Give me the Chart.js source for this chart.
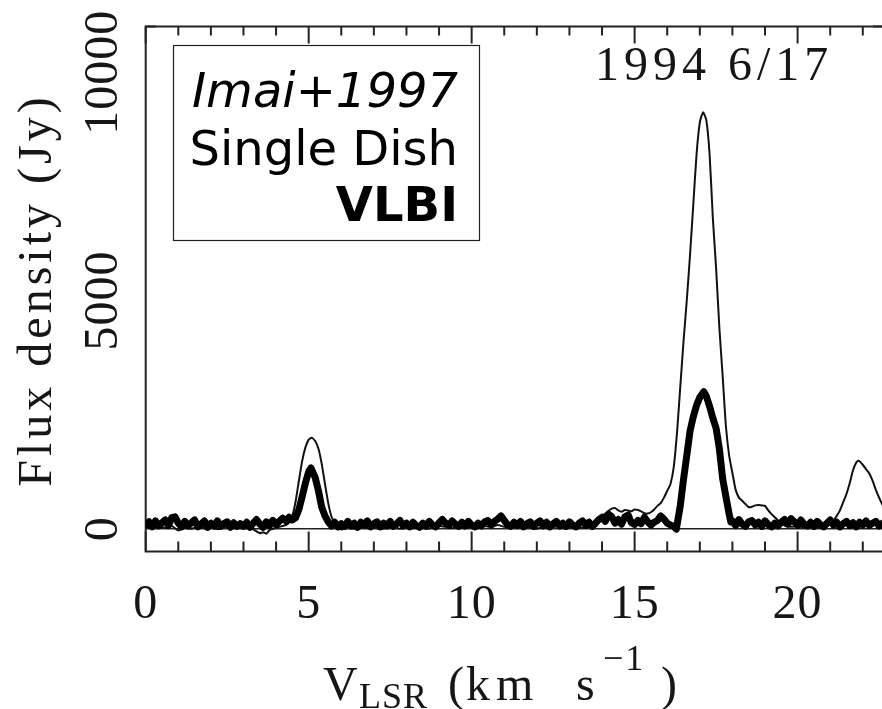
<!DOCTYPE html>
<html>
<head>
<meta charset="utf-8">
<title>H2O maser spectrum 1994 6/17</title>
<script src="https://cdn.jsdelivr.net/npm/chart.js@4/dist/chart.umd.min.js"></script>
<style>
  html, body { margin: 0; padding: 0; background: #fff; overflow: hidden; }
  #wrap { width: 882px; height: 709px; overflow: hidden; }
  canvas { display: block; }
</style>
</head>
<body>
<div id="wrap"><canvas id="spec" width="900" height="709"></canvas></div>
<script>
// Observation epoch
const epochLabel = '1994 6/17';

// Legend entries (top to bottom)
const legendLines = ['Imai+1997', 'Single Dish', 'VLBI'];

// Axis ticks
const xTickLabels = [0, 5, 10, 15, 20];
const yTickLabels = [0, 5000, 10000];

// Single-dish spectrum: LSR velocity (km/s) and flux density (Jy)
const sdVel = [
  0.0, 0.2, 0.4, 0.6, 0.8, 1.0, 1.2, 1.4, 1.6, 1.8, 2.0, 2.2, 2.4, 2.6, 2.8, 3.0, 3.2, 3.4, 3.5, 3.6,
  3.7, 3.8, 4.0, 4.2, 4.3, 4.4, 4.5, 4.6, 4.7, 4.8, 4.9, 5.0, 5.09, 5.2, 5.3, 5.4, 5.5, 5.6, 5.7, 5.8,
  5.9, 6.0, 6.2, 6.4, 6.6, 6.8, 7.0, 7.2, 7.4, 7.6, 7.8, 8.0, 8.2, 8.4, 8.6, 8.8, 9.0, 9.2, 9.4, 9.6,
  9.8, 10.0, 10.2, 10.4, 10.6, 10.8, 11.0, 11.2, 11.4, 11.6, 11.8, 12.0, 12.2, 12.4, 12.6, 12.8, 13.0, 13.2, 13.4, 13.6,
  13.8, 13.9, 14.0, 14.1, 14.2, 14.3, 14.4, 14.5, 14.6, 14.7, 14.8, 14.9, 15.0, 15.1, 15.2, 15.3, 15.4, 15.5, 15.6, 15.7,
  15.8, 15.9, 16.0, 16.1, 16.2, 16.3, 16.4, 16.5, 16.6, 16.7, 16.8, 16.9, 17.0, 17.1, 17.2, 17.3, 17.4, 17.5, 17.6, 17.7,
  17.8, 17.9, 18.0, 18.1, 18.2, 18.3, 18.4, 18.5, 18.6, 18.7, 18.8, 18.9, 19.0, 19.1, 19.2, 19.3, 19.4, 19.5, 19.6, 19.8,
  20.0, 20.2, 20.4, 20.6, 20.8, 20.9, 21.0, 21.1, 21.2, 21.3, 21.4, 21.5, 21.6, 21.7, 21.8, 21.87, 22.0, 22.1, 22.2, 22.3,
  22.4, 22.5, 22.6, 22.7
];
const sdFlux = [
  40, 10, 50, 20, 60, -40, 30, 0, 40, 10, 30, -10, 40, 10, 30, 0, 20, -60, -100, -80,
  -110, -30, 20, 60, 80, 130, 280, 600, 1050, 1480, 1780, 1950, 1990, 1920, 1750, 1420, 980, 560, 260, 120,
  40, -20, 30, 0, 40, 10, 30, -10, 20, 40, 0, 30, 10, 40, 0, 20, 60, 40, 10, 50,
  20, 40, 10, 60, 30, 80, 40, 20, 50, 10, 30, 0, 40, 20, 50, 10, 30, 60, 20, 40,
  120, 200, 270, 330, 390, 440, 450, 400, 370, 410, 400, 380, 420, 410, 380, 340, 330, 360, 420, 500,
  560, 680, 830, 980, 1350, 2100, 3100, 4100, 5000, 6000, 7100, 8200, 8900, 9120, 8950, 8200, 6800, 5700, 4400, 3350,
  2250, 1600, 1220, 850, 680, 610, 540, 470, 480, 510, 520, 510, 500, 400, 320, 250, 180, 120, 70, 40,
  60, 20, 50, 30, 40, 60, 90, 170, 280, 400, 580, 760, 1000, 1280, 1450, 1490, 1400, 1300, 1210, 1050,
  850, 680, 530, 420
];

// VLBI (correlated) spectrum: LSR velocity (km/s) and flux density (Jy)
const vlbiVel = [
  0.0, 0.1, 0.2, 0.3, 0.4, 0.5, 0.6, 0.7, 0.8, 0.9, 1.0, 1.1, 1.2, 1.3, 1.4, 1.5, 1.6, 1.7, 1.8, 1.9,
  2.0, 2.1, 2.2, 2.3, 2.4, 2.5, 2.6, 2.7, 2.8, 2.9, 3.0, 3.1, 3.2, 3.3, 3.4, 3.5, 3.6, 3.7, 3.8, 3.9,
  4.0, 4.1, 4.2, 4.3, 4.4, 4.5, 4.6, 4.7, 4.8, 4.9, 5.0, 5.07, 5.2, 5.3, 5.4, 5.5, 5.6, 5.7, 5.8, 5.9,
  6.0, 6.1, 6.2, 6.3, 6.4, 6.5, 6.6, 6.7, 6.8, 6.9, 7.0, 7.1, 7.2, 7.3, 7.4, 7.5, 7.6, 7.7, 7.8, 7.9,
  8.0, 8.1, 8.2, 8.3, 8.4, 8.5, 8.6, 8.7, 8.8, 8.9, 9.0, 9.1, 9.2, 9.3, 9.4, 9.5, 9.6, 9.7, 9.8, 9.9,
  10.0, 10.1, 10.2, 10.3, 10.4, 10.5, 10.6, 10.7, 10.8, 10.9, 11.0, 11.1, 11.2, 11.3, 11.4, 11.5, 11.6, 11.7, 11.8, 11.9,
  12.0, 12.1, 12.2, 12.3, 12.4, 12.5, 12.6, 12.7, 12.8, 12.9, 13.0, 13.1, 13.2, 13.3, 13.4, 13.5, 13.6, 13.7, 13.8, 13.9,
  14.0, 14.1, 14.2, 14.3, 14.4, 14.5, 14.6, 14.7, 14.8, 14.9, 15.0, 15.1, 15.2, 15.3, 15.4, 15.5, 15.6, 15.7, 15.8, 15.9,
  16.0, 16.1, 16.2, 16.28, 16.4, 16.5, 16.6, 16.7, 16.8, 16.9, 17.0, 17.12, 17.2, 17.3, 17.4, 17.5, 17.6, 17.7, 17.8, 17.9,
  17.95, 18.0, 18.1, 18.2, 18.3, 18.4, 18.5, 18.6, 18.7, 18.8, 18.9, 19.0, 19.1, 19.2, 19.3, 19.4, 19.5, 19.6, 19.7, 19.8,
  19.9, 20.0, 20.1, 20.2, 20.3, 20.4, 20.5, 20.6, 20.7, 20.8, 20.9, 21.0, 21.1, 21.2, 21.3, 21.4, 21.5, 21.6, 21.7, 21.8,
  21.9, 22.0, 22.1, 22.2, 22.3, 22.4, 22.5, 22.6, 22.7
];
const vlbiFlux = [
  90, 150, 40, 170, 60, 130, 190, 70, 240, 260, 120, 40, 160, 60, 130, 190, 40, 100, 170, 30,
  120, 60, 170, 50, 110, 150, 30, 130, 50, 110, 60, 140, 30, 120, 200, 100, 30, 150, 70, 180,
  90, 160, 230, 170, 250, 190, 240, 420, 700, 1000, 1250, 1330, 1120, 830, 470, 280, 150, 60, 140, 40,
  110, 50, 160, 60, 120, 30, 140, 80, 170, 40, 110, 150, 40, 120, 60, 160, 50, 110, 180, 60,
  120, 40, 140, 70, 30, 120, 60, 160, 80, 40, 130, 200, 120, 70, 170, 100, 50, 140, 60, 160,
  80, 40, 120, 60, 150, 180, 80, 160, 210, 280, 180, 90, 50, 140, 70, 160, 40, 110, 150, 50,
  120, 170, 60, 140, 40, 110, 160, 60, 120, 50, 150, 80, 40, 120, 170, 80, 140, 50, 120, 200,
  250, 160, 320, 260, 120, 200, 100, 260, 300, 130, 90, 180, 110, 250, 150, 80, 140, 180, 280, 210,
  120, 80, 50, -10, 500, 1080, 1600, 2140, 2450, 2700, 2880, 3000, 2900, 2680, 2420, 2200, 1750, 1100, 700, 320,
  150, 170, 70, 200, 100, 50, 150, 180, 80, 140, 50, 170, 90, 40, 120, 60, 140, 200, 100, 220,
  150, 70, 190, 100, 60, 140, 50, 160, 90, 40, 120, 190, 80, 140, 40, 110, 160, 70, 130, 40,
  140, 80, 170, 70, 120, 160, 60, 120, 90
];

const toPoints = (xs, ys) => xs.map((v, i) => ({ x: v, y: ys[i] }));

const SERIF = '"Liberation Serif", "DejaVu Serif", serif';
const SANS = '"DejaVu Sans", "Noto Sans", sans-serif';
const INK = '#161616';

function seg(ctx, x1, y1, x2, y2) {
  ctx.beginPath(); ctx.moveTo(x1, y1); ctx.lineTo(x2, y2); ctx.stroke();
}

// Boxed frame with inward ticks on all four sides, plus the zero line
const framePlugin = {
  id: 'frame',
  beforeDatasetsDraw(chart) {
    const { ctx, chartArea: a, scales: { x, y } } = chart;
    ctx.save();
    ctx.strokeStyle = '#222';
    ctx.lineWidth = 1.5;
    const y0 = y.getPixelForValue(0);
    seg(ctx, a.left, y0, a.right, y0);

    ctx.lineWidth = 2;
    x.ticks.forEach(t => {
      if (t.value < x.min || t.value > x.max || !Number.isInteger(t.value)) return;
      const px = x.getPixelForValue(t.value);
      const major = t.value % 5 === 0;
      seg(ctx, px, a.bottom, px, a.bottom - (major ? 20 : 10));
      seg(ctx, px, a.top, px, a.top + (major ? 17 : 9));
    });
    y.ticks.forEach(t => {
      if (t.value < y.min || t.value > y.max || t.value % 1000 !== 0) return;
      const py = y.getPixelForValue(t.value);
      const major = t.value % 5000 === 0;
      seg(ctx, a.left, py, a.left + (major ? 19 : 10), py);
      seg(ctx, a.right, py, a.right - (major ? 19 : 10), py);
    });
    ctx.strokeRect(a.left, a.top, a.right - a.left, a.bottom - a.top);
    ctx.restore();
  },
  afterDraw(chart) {
    const { ctx, scales: { x, y } } = chart;
    ctx.save();
    ctx.fillStyle = INK;

    // x tick labels
    ctx.font = `48px ${SERIF}`;
    ctx.letterSpacing = '1px';
    ctx.textAlign = 'center';
    ctx.textBaseline = 'middle';
    xTickLabels.forEach(v => {
      ctx.fillText(String(v), x.getPixelForValue(v), 605);
    });

    // y tick labels, rotated
    yTickLabels.forEach(v => {
      ctx.save();
      ctx.translate(104, y.getPixelForValue(v));
      ctx.rotate(-Math.PI / 2);
      ctx.fillText(String(v), 0, 0);
      ctx.restore();
    });

    // y axis title
    ctx.save();
    ctx.letterSpacing = '4px';
    ctx.translate(38, 290);
    ctx.rotate(-Math.PI / 2);
    ctx.fillText('Flux density (Jy)', 0, 0);
    ctx.restore();

    // x axis title: V_LSR (km s^-1)
    ctx.textAlign = 'left';
    ctx.textBaseline = 'alphabetic';
    const parts = [
      { t: 'V', size: 48, x: 323, y: 700, ls: 0 },
      { t: 'LSR', size: 36, x: 359, y: 708, ls: 1 },
      { t: '(', size: 48, x: 448, y: 700, ls: 0 },
      { t: 'km', size: 48, x: 466, y: 700, ls: 6 },
      { t: 's', size: 48, x: 576, y: 700, ls: 0 },
      { t: '\u22121', size: 36, x: 603, y: 670, ls: 2 },
      { t: ')', size: 48, x: 661, y: 700, ls: 0 }
    ];
    parts.forEach(p => {
      ctx.font = `${p.size}px ${SERIF}`;
      ctx.letterSpacing = p.ls + 'px';
      ctx.fillText(p.t, p.x, p.y);
    });

    // epoch label
    ctx.font = `48px ${SERIF}`;
    ctx.letterSpacing = '5px';
    ctx.textAlign = 'left';
    ctx.fillText(epochLabel, 595, 80);

    // legend box
    ctx.letterSpacing = '0px';
    ctx.fillStyle = '#fff';
    ctx.fillRect(173, 45, 307, 196);
    ctx.strokeStyle = '#222';
    ctx.lineWidth = 1.2;
    ctx.strokeRect(173.5, 45.5, 306, 195);
    ctx.fillStyle = '#000';
    ctx.textAlign = 'right';
    ctx.font = `italic 48px ${SANS}`;
    ctx.fillText(legendLines[0], 458, 107);
    ctx.font = `48px ${SANS}`;
    ctx.fillText(legendLines[1], 458, 165);
    ctx.font = `bold 48px ${SANS}`;
    ctx.fillText(legendLines[2], 458, 221);
    ctx.restore();
  }
};

new Chart(document.getElementById('spec'), {
  type: 'line',
  data: {
    datasets: [
      {
        label: 'VLBI',
        data: toPoints(vlbiVel, vlbiFlux),
        borderColor: '#000',
        borderWidth: 7,
        borderJoinStyle: 'round',
        borderCapStyle: 'round',
        pointRadius: 0,
        tension: 0,
        fill: false
      },
      {
        label: 'Single Dish',
        data: toPoints(sdVel, sdFlux),
        borderColor: '#111',
        borderWidth: 2,
        pointRadius: 0,
        tension: 0.2,
        fill: false
      }
    ]
  },
  options: {
    responsive: false,
    animation: false,
    devicePixelRatio: 1,
    layout: { padding: { top: 26.5, right: 17, left: 0, bottom: 0 } },
    plugins: { legend: { display: false }, tooltip: { enabled: false } },
    scales: {
      x: {
        type: 'linear',
        min: 0,
        max: 22.62,
        ticks: { display: false, stepSize: 1, includeBounds: false },
        grid: { display: false },
        border: { display: false },
        afterFit: s => { s.height = 157.5; }
      },
      y: {
        type: 'linear',
        min: -500,
        max: 11000,
        ticks: { display: false, stepSize: 1000, includeBounds: false },
        grid: { display: false },
        border: { display: false },
        afterFit: s => { s.width = 145.7; }
      }
    }
  },
  plugins: [framePlugin]
});
</script>
</body>
</html>
